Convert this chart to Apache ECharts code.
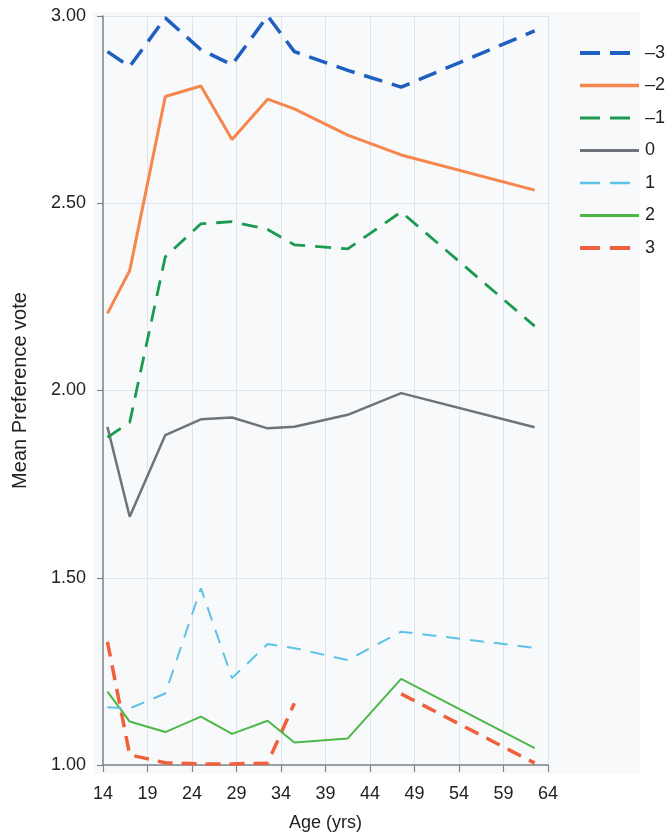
<!DOCTYPE html>
<html>
<head>
<meta charset="utf-8">
<script src="https://cdn.jsdelivr.net/npm/echarts@6/dist/echarts.min.js"></script>
<style>
html,body{margin:0;padding:0;background:#fff;}
#c{width:666px;height:837px;}
</style>
</head>
<body>
<div id="c"></div>
<script>
// Age points (years)
var ages = [14.5, 17, 21, 25, 28.5, 32.5, 35.5, 41.5, 47.5, 62.5];
var xTickStart = 14;
var xTickLabels = ['14','19','24','29','34','39','44','49','54','59','64'];
var yTickLabels = ['1.00','1.50','2.00','2.50','3.00'];
var seriesNames = ['\u20133', '\u20132', '\u20131', '0', '1', '2', '3'];

var vMinus3 = [2.905, 2.865, 2.995, 2.91, 2.87, 3.00, 2.905, 2.855, 2.81, 2.96];
var vMinus2 = [2.206, 2.32, 2.785, 2.813, 2.67, 2.778, 2.752, 2.682, 2.629, 2.535];
var vMinus1 = [1.875, 1.915, 2.357, 2.445, 2.451, 2.43, 2.389, 2.378, 2.477, 2.172];
var vZero   = [1.903, 1.663, 1.881, 1.923, 1.928, 1.899, 1.903, 1.935, 1.993, 1.902];
var vPlus1  = [1.154, 1.151, 1.191, 1.472, 1.232, 1.323, 1.312, 1.280, 1.356, 1.313];
var vPlus2  = [1.196, 1.116, 1.088, 1.129, 1.083, 1.118, 1.060, 1.071, 1.230, 1.045];
var vPlus3  = [1.329, 1.027, 1.006, 1.003, 1.003, 1.005, 1.165, null, 1.19, 1.005];

var allValues = [vMinus3, vMinus2, vMinus1, vZero, vPlus1, vPlus2, vPlus3];

var styles = [
  {color:'#1f5fc0', width:3.5, type:[19,10], legendWidth:4},
  {color:'#f5864c', width:3,   type:'solid', legendWidth:3.5},
  {color:'#1c9a52', width:2.8, type:[16,10], legendWidth:3.2},
  {color:'#6e7479', width:2.5, type:'solid', legendWidth:3},
  {color:'#5cc3e6', width:2,   type:[14,10], legendWidth:2.5},
  {color:'#4cb848', width:2,   type:'solid', legendWidth:2.8},
  {color:'#f0603a', width:3.5, type:[15,9],  legendWidth:4}
];

function pairs(vals){
  return ages.map(function(a,i){ return [a - xTickStart, vals[i]]; });
}

var series = seriesNames.map(function(n, k){
  var s = styles[k];
  return {
    name: n,
    type: 'line',
    data: pairs(allValues[k]),
    symbol: 'none',
    showSymbol: false,
    connectNulls: false,
    smooth: false,
    lineStyle: {color: s.color, width: s.width, type: s.type, cap: 'butt'},
    itemStyle: {color: s.color},
    z: 10 - k
  };
});

var legendData = seriesNames.map(function(n, k){
  var s = styles[k];
  return {
    name: n,
    itemStyle: {opacity: 0},
    lineStyle: {
      color: s.color,
      width: s.legendWidth,
      type: s.type === 'solid' ? 'solid' : [20, 10, 20, 100]
    }
  };
});

var chart = echarts.init(document.getElementById('c'), null, {renderer:'canvas'});
var font = 'Liberation Sans, Arial, Helvetica, sans-serif';
chart.setOption({
  animation: false,
  backgroundColor: '#ffffff',
  graphic: [{
    type: 'rect',
    shape: {x: 93, y: 12, width: 547, height: 762},
    style: {fill: '#f8f9fb'},
    z: -10, silent: true
  }],
  grid: {left: 103, right: 118, top: 16, bottom: 72, containLabel: false},
  legend: {
    orient: 'vertical',
    left: 578,
    top: 44,
    padding: 0,
    itemWidth: 59,
    itemHeight: 14,
    itemGap: 14.5,
    itemStyle: {opacity: 0},
    textStyle: {fontFamily: font, fontSize: 18, color: '#222', padding: [0,0,0,1]},
    data: legendData
  },
  xAxis: {
    type: 'value',
    min: 0,
    max: 50,
    interval: 5,
    name: 'Age (yrs)',
    nameLocation: 'middle',
    nameGap: 49,
    nameTextStyle: {fontFamily: font, fontSize: 18, color: '#222'},
    axisLine: {show: true, lineStyle: {color: '#7d848c', width: 1.5}},
    axisTick: {show: true, length: 7, lineStyle: {color: '#7d848c', width: 1.2}},
    axisLabel: {
      fontFamily: font, fontSize: 18, color: '#222', margin: 20,
      formatter: function(v){ return xTickLabels[Math.round(v/5)]; }
    },
    splitLine: {show: true, lineStyle: {color: '#dde5ec', width: 1}}
  },
  yAxis: {
    type: 'value',
    min: 1,
    max: 3,
    interval: 0.5,
    name: 'Mean Preference vote',
    nameLocation: 'middle',
    nameGap: 73,
    nameTextStyle: {fontFamily: font, fontSize: 20, color: '#222'},
    axisLine: {show: true, lineStyle: {color: '#7d848c', width: 1.5}},
    axisTick: {show: true, length: 6, lineStyle: {color: '#7d848c', width: 1.2}},
    axisLabel: {
      fontFamily: font, fontSize: 18, color: '#222', margin: 17,
      formatter: function(v){ return yTickLabels[Math.round((v-1)/0.5)]; }
    },
    splitLine: {show: true, lineStyle: {color: '#dde5ec', width: 1}}
  },
  series: series
});
</script>
</body>
</html>
